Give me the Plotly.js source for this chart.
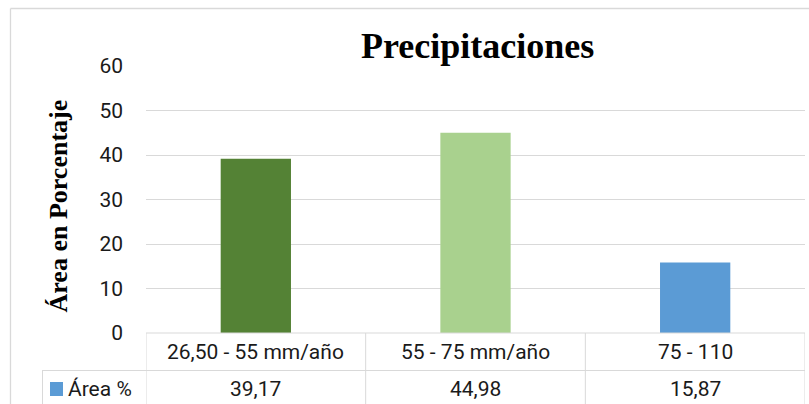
<!DOCTYPE html>
<html>
<head>
<meta charset="utf-8">
<script src="https://cdn.plot.ly/plotly-3.0.1.min.js"></script>
<style>html,body{margin:0;padding:0;background:#fff;}#chart{width:809px;height:404px;}</style>
</head>
<body>
<div id="chart"></div>
<script>
const categories = ["26,50 - 55 mm/año", "55 - 75 mm/año", "75 - 110"];
const values = [39.17, 44.98, 15.87];
const valueLabels = ["39,17", "44,98", "15,87"];
const barColors = ["#548235", "#a9d18e", "#5b9bd5"];
const seriesName = "Área %";
const chartTitle = "Precipitaciones";
const yTitle = "Área en Porcentaje";
const yTicks = [0, 10, 20, 30, 40, 50, 60];

const W = 809, H = 404;
const L = 146, R = 4, T = 66, B = 71;
const pw = W - L - R, ph = H - T - B;
const px = v => (v - L) / pw;          // pixel x -> paper x
const py = v => (H - B - v) / ph;       // pixel y -> paper y
const grid = "#d9d9d9";
const tickFont = {family: "Roboto, 'Liberation Sans', sans-serif", size: 21, color: "#1a1a1a"};

const xIdx = categories.map((c, i) => i);

const trace = {
  type: "bar",
  x: xIdx,
  y: values,
  width: 0.32,
  marker: {color: barColors},
  name: seriesName,
  hoverinfo: "skip"
};

const shapes = [];
const line = {color: grid, width: 1};
// outer chart border (left and top)
shapes.push({type: "line", xref: "paper", yref: "paper", x0: px(10.5), x1: px(10.5), y0: py(8.5), y1: py(410), line: {color: grid, width: 1.3}});
shapes.push({type: "line", xref: "paper", yref: "paper", x0: px(10.5), x1: px(812), y0: py(8.5), y1: py(8.5), line: {color: grid, width: 1.3}});
// table horizontal lines
shapes.push({type: "line", xref: "paper", yref: "paper", x0: 0, x1: 1, y0: 0, y1: 0, line: line});
shapes.push({type: "line", xref: "paper", yref: "paper", x0: px(42), x1: 1, y0: py(370.5), y1: py(370.5), line: line});
// table vertical lines
for (let k = 0; k <= categories.length; k++) {
  shapes.push({type: "line", xref: "x", yref: "paper", x0: k - 0.5, x1: k - 0.5, y0: 0, y1: py(410), line: line});
}
shapes.push({type: "line", xref: "paper", yref: "paper", x0: px(42.5), x1: px(42.5), y0: py(370.5), y1: py(410), line: line});
// legend key
shapes.push({type: "rect", xref: "paper", yref: "paper", x0: px(50), x1: px(63), y0: py(382), y1: py(396), fillcolor: barColors[2], line: {width: 0}});

const annotations = [];
categories.forEach((c, i) => {
  annotations.push({xref: "x", yref: "paper", x: i, y: py(352), text: c, showarrow: false, xanchor: "center", yanchor: "middle", font: tickFont});
  annotations.push({xref: "x", yref: "paper", x: i, y: py(389), text: valueLabels[i], showarrow: false, xanchor: "center", yanchor: "middle", font: tickFont});
});
annotations.push({xref: "paper", yref: "paper", x: px(66), y: py(389), text: seriesName, showarrow: false, xanchor: "left", yanchor: "middle", font: tickFont});
annotations.push({xref: "paper", yref: "paper", x: px(477.5), y: py(46), text: "<b>" + chartTitle + "</b>", showarrow: false, xanchor: "center", yanchor: "middle", font: {family: "'Liberation Serif', 'Times New Roman', serif", size: 36, color: "#000"}});
annotations.push({xref: "paper", yref: "paper", x: px(58), y: py(206.5), text: "<b>" + yTitle + "</b>", textangle: -90, showarrow: false, xanchor: "center", yanchor: "middle", font: {family: "'Liberation Serif', 'Times New Roman', serif", size: 26, color: "#000"}});

const layout = {
  width: W, height: H,
  margin: {l: L, r: R, t: T, b: B, pad: 0},
  paper_bgcolor: "#fff", plot_bgcolor: "#fff",
  showlegend: false,
  xaxis: {type: "linear", range: [-0.5, categories.length - 0.5], showticklabels: false, showgrid: false, zeroline: false, showline: false, ticks: "", fixedrange: true},
  yaxis: {range: [0, 60], tickvals: yTicks, ticktext: yTicks.map(String), showgrid: true, gridcolor: grid, gridwidth: 1, zeroline: false, showline: false, ticks: "", ticklabelstandoff: 22, tickfont: tickFont, fixedrange: true},
  shapes: shapes,
  annotations: annotations
};

Plotly.newPlot("chart", [trace], layout, {displayModeBar: false, staticPlot: true});
</script>
</body>
</html>
